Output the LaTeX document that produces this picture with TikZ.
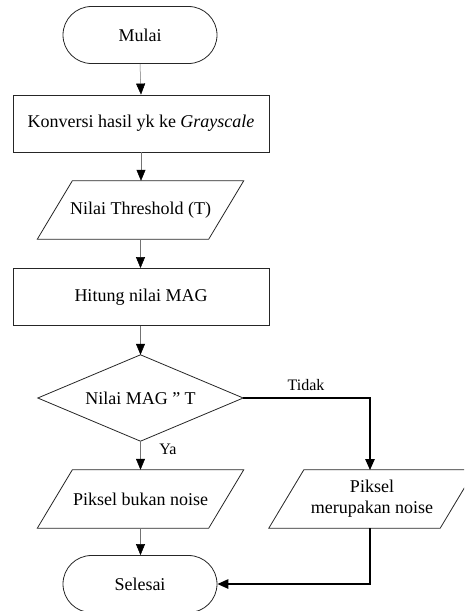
\documentclass[tikz,border=0pt]{standalone}
\usepackage{fontspec}
\setmainfont{Liberation Serif}
\usetikzlibrary{arrows.meta,calc}
\begin{document}
\begin{tikzpicture}[x=1pt,y=-1pt,
  base/.style={inner sep=0pt,align=center,font=\fontsize{18}{21}\selectfont},
  term/.style={base,draw=black!85,line width=0.8pt,minimum width=154pt,minimum height=57pt,rounded corners=28.5pt},
  procbox/.style={base,draw=black!85,line width=0.8pt,minimum width=256pt,minimum height=57pt},
  iobox/.style={base,minimum width=206pt,minimum height=58pt},
  decbox/.style={base,minimum width=205pt,minimum height=86pt},
  shapeline/.style={draw=black!85,line width=0.8pt},
  thinarrow/.style={draw=black!55,line width=0.5pt,-{Triangle[length=11pt,width=9pt,color=black,fill=black]}},
  thickarrow/.style={draw=black,line width=1.3pt,-{Triangle[length=11pt,width=9.5pt]}},
  lbl/.style={inner sep=0pt,font=\fontsize{16}{18}\selectfont}
]
\clip (0,0) rectangle (464,611);
\useasboundingbox (0,0) rectangle (464,611);

\node[term] (mulai) at (140,35) {Mulai};
\node[procbox] (konv) at (141,123.5) {Konversi hasil yk ke \textit{Grayscale}};
\node[iobox] (thr) at (140.5,210) {Nilai Threshold (T)};
\draw[shapeline] ([xshift=35pt]thr.north west) -- (thr.north east) -- ([xshift=-35pt]thr.south east) -- (thr.south west) -- cycle;
\node[procbox] (mag) at (141,297) {Hitung nilai MAG};
\node[decbox] (dec) at (140.5,398) {Nilai MAG ” T};
\draw[shapeline] (dec.north) -- (dec.east) -- (dec.south) -- (dec.west) -- cycle;
\node[iobox] (bukan) at (140.5,499) {Piksel bukan noise};
\draw[shapeline] ([xshift=35pt]bukan.north west) -- (bukan.north east) -- ([xshift=-35pt]bukan.south east) -- (bukan.south west) -- cycle;
\node[iobox] (noise) at (372,499) {Piksel\\merupakan noise};
\draw[shapeline] ([xshift=35pt]noise.north west) -- (noise.north east) -- ([xshift=-35pt]noise.south east) -- (noise.south west) -- cycle;
\node[term] (selesai) at (140,584) {Selesai};

\coordinate (rtop) at (370,470);
\coordinate (rbot) at (370,528);

\draw[thinarrow] (mulai.south) -- (konv.north);
\draw[thinarrow] (konv.south) -- (konv.south |- thr.north);
\draw[thinarrow] (thr.south) -- (thr.south |- mag.north);
\draw[thinarrow] (mag.south -| dec.north) -- (dec.north);
\draw[thinarrow] (dec.south) -- (bukan.north);
\draw[thinarrow] (bukan.south) -- (bukan.south |- selesai.north);
\draw[thickarrow] (dec.east) -| (rtop);
\draw[thickarrow] (rbot) |- (selesai.east);

\node[lbl] (tidak) at (306,385) {Tidak};
\node[lbl] (ya) at (168,449) {Ya};
\end{tikzpicture}
\end{document}
